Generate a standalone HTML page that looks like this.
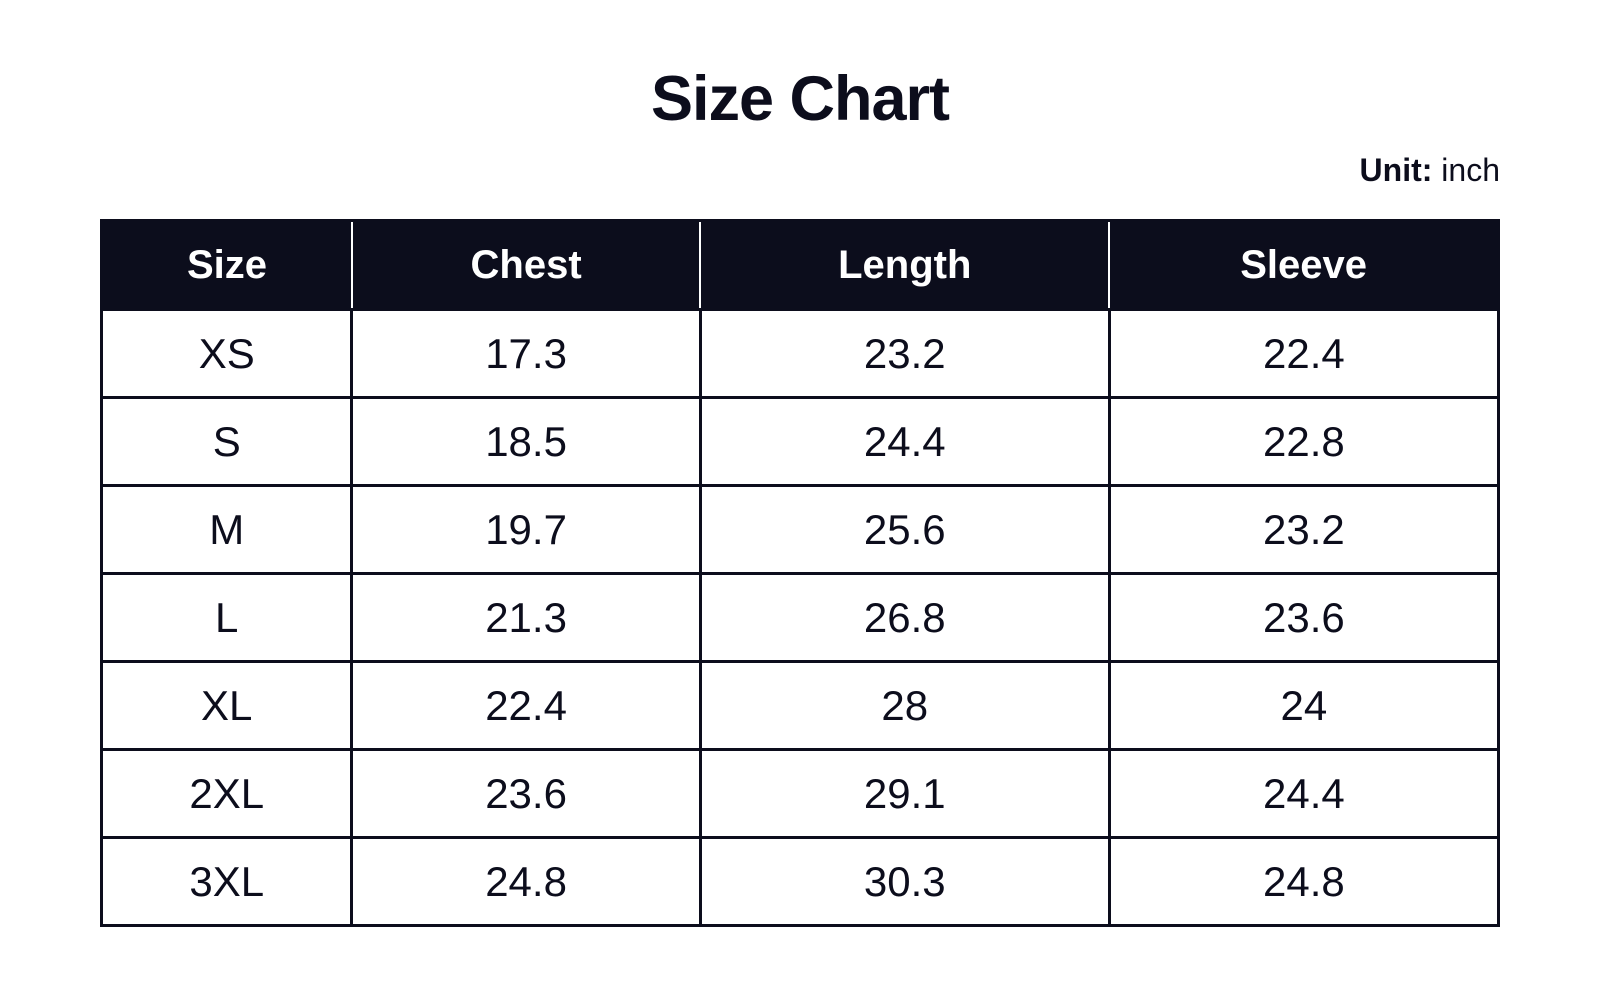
<!DOCTYPE html>
<html><head><meta charset="utf-8"><style>
html,body{margin:0;padding:0;background:#fff;width:1600px;height:992px;overflow:hidden;font-family:"Liberation Sans",sans-serif;color:#0c0d1c}
.title{position:absolute;left:0;width:1600px;top:63px;text-align:center;font-size:63px;font-weight:bold;letter-spacing:-1px}
.unit{position:absolute;right:100px;top:152px;font-size:32px}
table{position:absolute;left:100px;top:219px;width:1400px;border-collapse:collapse}
td,th{border:3px solid #0c0d1c;text-align:center;padding:0;font-size:42px}
th{background:#0c0d1c;color:#fff;height:86px;font-size:40px;border-left:2px solid #fff;border-right:2px solid #fff}
th:first-child{border-left:3px solid #0c0d1c}th:last-child{border-right:3px solid #0c0d1c}
td{height:85px}
</style></head><body>
<div class="title">Size Chart</div>
<div class="unit"><b>Unit:</b> inch</div>
<table>
<colgroup><col style="width:251px"><col style="width:349px"><col style="width:410px"><col style="width:390px"></colgroup>
<tr><th>Size</th><th>Chest</th><th>Length</th><th>Sleeve</th></tr>
<tr><td>XS</td><td>17.3</td><td>23.2</td><td>22.4</td></tr>
<tr><td>S</td><td>18.5</td><td>24.4</td><td>22.8</td></tr>
<tr><td>M</td><td>19.7</td><td>25.6</td><td>23.2</td></tr>
<tr><td>L</td><td>21.3</td><td>26.8</td><td>23.6</td></tr>
<tr><td>XL</td><td>22.4</td><td>28</td><td>24</td></tr>
<tr><td>2XL</td><td>23.6</td><td>29.1</td><td>24.4</td></tr>
<tr><td>3XL</td><td>24.8</td><td>30.3</td><td>24.8</td></tr>
</table>
</body></html>
